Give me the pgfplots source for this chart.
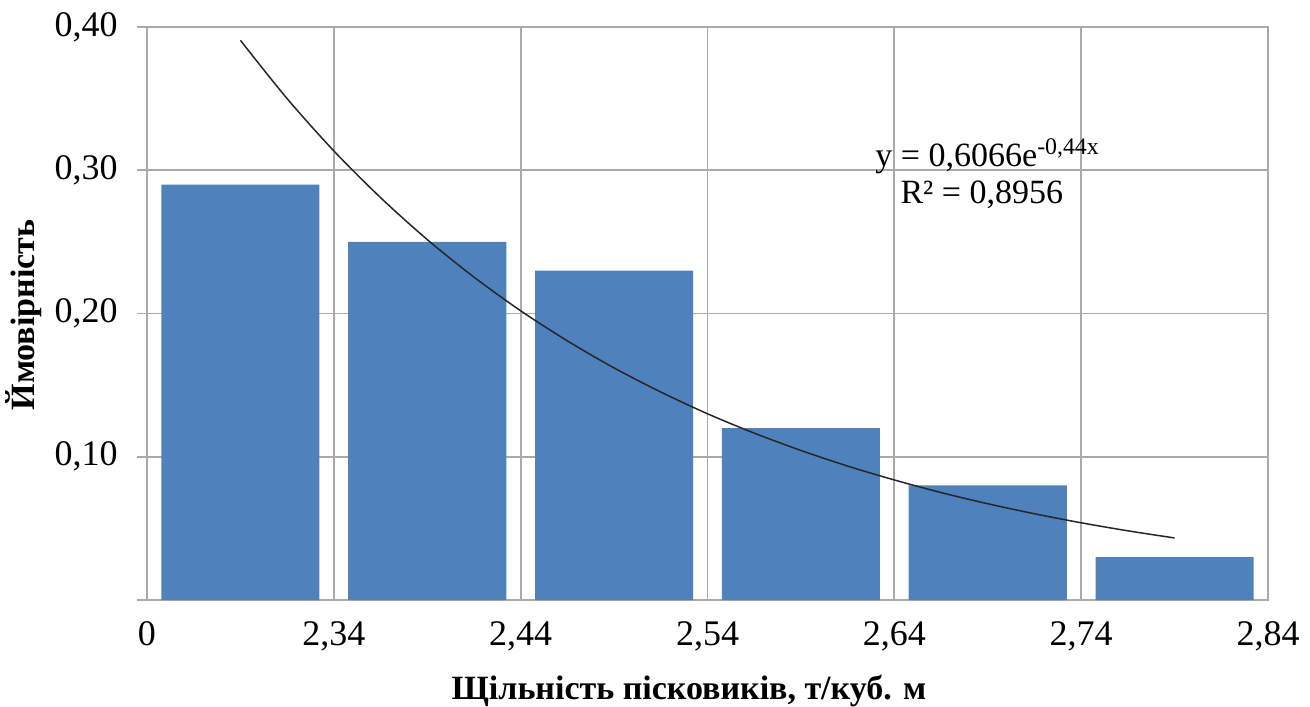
\documentclass[border=0pt]{standalone}
\usepackage{pgfplots}
\pgfplotsset{compat=1.18}
\usepackage{fontspec}
\setmainfont{Liberation Serif}
\definecolor{barblue}{HTML}{4F81BD}
\definecolor{gridgray}{RGB}{170,170,170}
\begin{document}
\begin{tikzpicture}
\path[use as bounding box] (-73.5pt,-53pt) rectangle (581.5pt,300pt);
\begin{axis}[
  at={(0,0)}, anchor=south west,
  scale only axis, width=560.5pt, height=286.5pt,
  xmin=0.5, xmax=6.5, ymin=0, ymax=0.4,
  axis line style={gridgray, line width=0.9pt},
  grid=major, major grid style={gridgray, line width=0.9pt},
  xtick={0.5,1.5,2.5,3.5,4.5,5.5,6.5},
  xticklabels={0,{2,34},{2,44},{2,54},{2,64},{2,74},{2,84}},
  ytick={0,0.1,0.2,0.3,0.4},
  yticklabels={,{0,10},{0,20},{0,30},{0,40}},
  ytick pos=left,
  xtick style={draw=none},
  ytick style={gridgray, line width=0.9pt},
  tick align=outside, major tick length=5pt,
  ticklabel style={font=\fontsize{18}{20}\selectfont, inner sep=0pt},
  xticklabel style={anchor=north, yshift=-5.5pt},
  yticklabel style={anchor=east, xshift=-9.5pt},
  clip=false,
]
\addplot[ybar, bar width=0.846, fill=barblue, draw=none] coordinates {
  (1,0.29) (2,0.25) (3,0.23) (4,0.12) (5,0.08) (6,0.03)
};
\addplot[black!85, line width=0.75pt, smooth] coordinates {
  (1,0.3907) (1.25,0.3500) (1.5,0.3135) (1.75,0.2809) (2,0.2516)
  (2.25,0.2254) (2.5,0.2019) (2.75,0.1809) (3,0.1620) (3.25,0.1452)
  (3.5,0.1300) (3.75,0.1165) (4,0.1044) (4.25,0.0935) (4.5,0.0838)
  (4.75,0.0750) (5,0.0672) (5.25,0.0602) (5.5,0.0539) (5.75,0.0483)
  (6,0.0433)
};
\node[anchor=base west, inner sep=0pt, font=\fontsize{17}{19}\selectfont] at (axis cs:4.397,0.3023) {y = 0,6066e\textsuperscript{-0,44x}};
\node[anchor=base west, inner sep=0pt, font=\fontsize{17}{19}\selectfont] at (axis cs:4.531,0.2771) {R² = 0,8956};
\end{axis}
\node[anchor=base, inner sep=0pt, font=\bfseries\fontsize{17}{19}\selectfont] at (271pt,-49.5pt) {Щільність пісковиків, т/куб. м};
\node[anchor=center, rotate=90, inner sep=0pt, font=\bfseries\fontsize{17}{19}\selectfont] at (-61.5pt,142.5pt) {Ймовірність};
\end{tikzpicture}
\end{document}
